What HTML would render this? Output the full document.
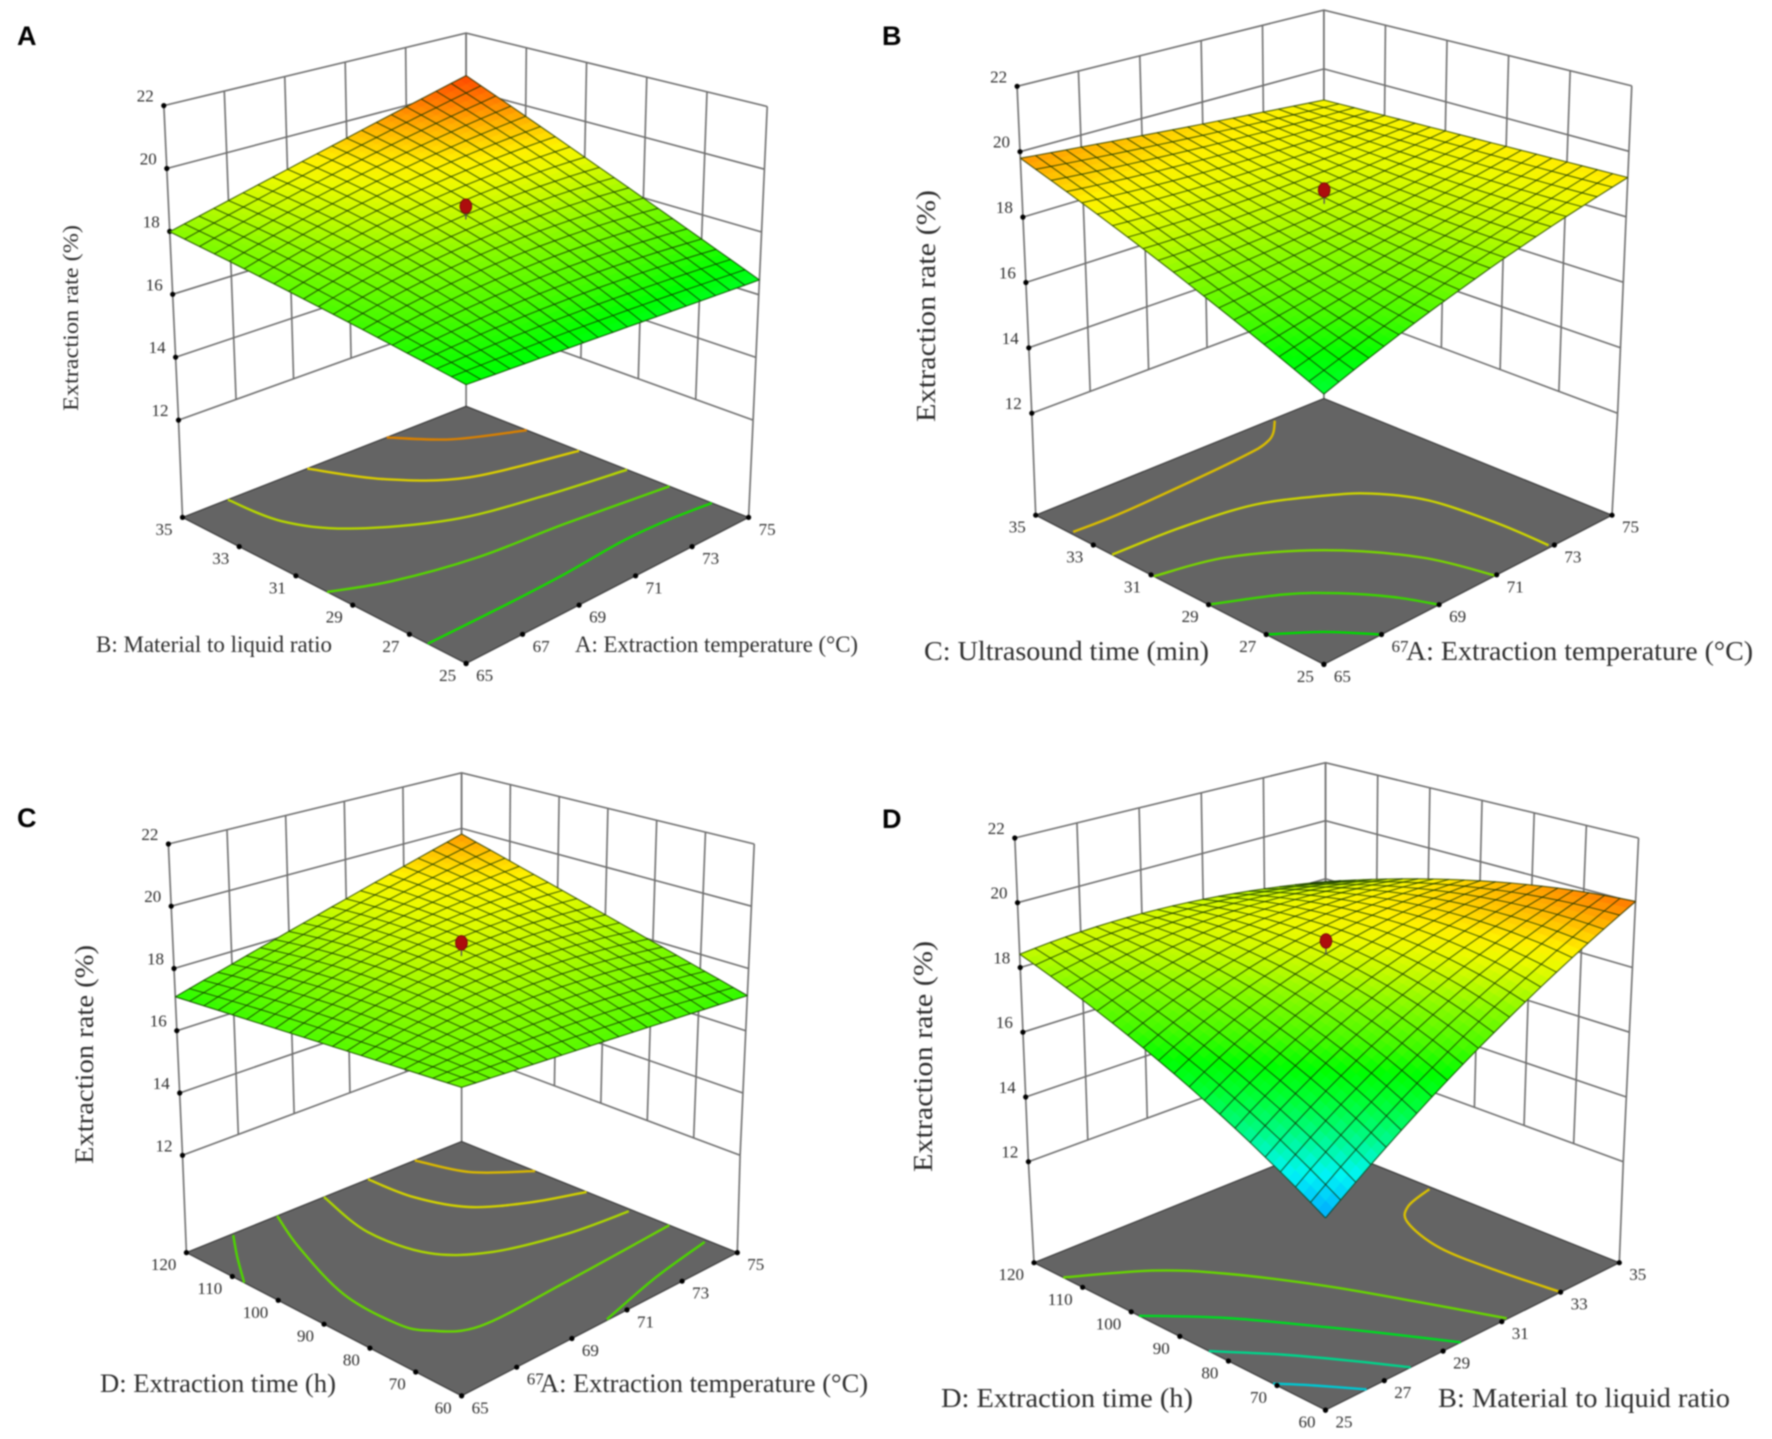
<!DOCTYPE html>
<html lang="en">
<head>
<meta charset="utf-8">
<title>Response surface plots of extraction rate</title>
<style>
html,body{margin:0;padding:0;background:#fff;}
svg{display:block;filter:blur(0.7px);}
.axis-title{font-family:"Liberation Serif",serif;fill:#2e2e2e;}
.tick-text{font-family:"Liberation Serif",serif;fill:#2e2e2e;font-size:17px;}
.panel-letter{font-family:"Liberation Sans",sans-serif;font-weight:bold;font-size:27px;fill:#000;}
</style>
</head>
<body>
<svg id="figure" xmlns="http://www.w3.org/2000/svg" width="1772" height="1439" viewBox="0 0 1772 1439">
<rect width="1772" height="1439" fill="#fff"/>
<g id="plots"></g>

<text class="panel-letter" x="17" y="45">A</text>
<text class="panel-letter" x="882" y="45">B</text>
<text class="panel-letter" x="17" y="827">C</text>
<text class="panel-letter" x="882" y="828">D</text>

<text class="axis-title" x="96" y="652" font-size="23" textLength="236" lengthAdjust="spacingAndGlyphs">B: Material to liquid ratio</text>
<text class="axis-title" x="575" y="652" font-size="23" textLength="283" lengthAdjust="spacingAndGlyphs">A: Extraction temperature (°C)</text>
<text class="axis-title" transform="translate(78,411) rotate(-90)" font-size="22" textLength="186" lengthAdjust="spacingAndGlyphs">Extraction rate (%)</text>

<text class="axis-title" x="924" y="660" font-size="27" textLength="285" lengthAdjust="spacingAndGlyphs">C: Ultrasound time (min)</text>
<text class="axis-title" x="1406" y="660" font-size="27" textLength="347" lengthAdjust="spacingAndGlyphs">A: Extraction temperature (°C)</text>
<text class="axis-title" transform="translate(935,422) rotate(-90)" font-size="27" textLength="232" lengthAdjust="spacingAndGlyphs">Extraction rate (%)</text>

<text class="axis-title" x="100" y="1392" font-size="26" textLength="236" lengthAdjust="spacingAndGlyphs">D: Extraction time (h)</text>
<text class="axis-title" x="540" y="1392" font-size="26" textLength="328" lengthAdjust="spacingAndGlyphs">A: Extraction temperature (°C)</text>
<text class="axis-title" transform="translate(93,1164) rotate(-90)" font-size="26" textLength="219" lengthAdjust="spacingAndGlyphs">Extraction rate (%)</text>

<text class="axis-title" x="941" y="1407" font-size="27" textLength="252" lengthAdjust="spacingAndGlyphs">D: Extraction time (h)</text>
<text class="axis-title" x="1438" y="1407" font-size="27" textLength="292" lengthAdjust="spacingAndGlyphs">B: Material to liquid ratio</text>
<text class="axis-title" transform="translate(932,1172) rotate(-90)" font-size="27" textLength="231" lengthAdjust="spacingAndGlyphs">Extraction rate (%)</text>
</svg>

<script>
// ---------- chart data ----------
const zTickValues = [12, 14, 16, 18, 20, 22];
const temperatureTicks = [65, 67, 69, 71, 73, 75];
const ratioTicks = [25, 27, 29, 31, 33, 35];
const ultrasoundTicks = [25, 27, 29, 31, 33, 35];
const timeTicks = [60, 70, 80, 90, 100, 110, 120];

// extraction rate at low / centre / high of the first factor (rows) and second factor (columns)
const panelAResponse = [[16.79, 17.40, 17.99], [16.64, 18.25, 19.18], [16.47, 18.39, 20.50]];
const panelBResponse = [[16.29, 18.05, 19.80], [17.85, 18.35, 19.37], [19.20, 19.08, 18.94]];
const panelCResponse = [[17.68, 17.41, 17.09], [17.43, 18.40, 18.38], [17.13, 18.39, 19.80]];
const panelDResponse = [[14.28, 16.57, 18.41], [17.30, 18.60, 18.56], [20.04, 19.38, 17.90]];

// centre-point design run
const designPointRate = [19.0, 19.0, 19.0, 19.0];

// floor contours: [first factor, second factor]
const panelAContourLevels = [19.8, 19.1, 18.6, 17.6, 17.0];
const panelAContours = [
  [[72.2,35],[73.3,33.8],[75,32.85]],
  [[69.4,35],[70.4,33.3],[72,31.9],[75,31]],
  [[66.6,35],[66.8,33.3],[67.8,31.9],[70,30.5],[72.5,29.8],[75,29.3]],
  [[65,29.9],[66.6,29.2],[69,28.6],[71.8,28.3],[75,27.8]],
  [[65,26.35],[67.85,26.35],[69.9,26.4],[72.05,26.55],[73.55,26.5],[75,26.3]]
];
const panelBContourLevels = [19.25, 18.85, 18.0, 17.3, 16.8];
const panelBContours = [
  [[73.2,34.9],[72.3,34.2],[70.9,33.95],[66.9,33.75],[65.1,33.8]],
  [[65,32.35],[67.25,32.25],[69.45,31.9],[71.05,31.05],[71.95,30.3],[72.65,29],[72.9,26.9],[72.9,25.1]],
  [[65,30.9],[67,30.4],[69,29],[70.4,27],[70.95,25]],
  [[65,29],[66.7,28.1],[67.7,27.2],[68.5,26.1],[69,25]],
  [[65,27],[66.1,26.1],[67,25]]
];
const panelCContourLevels = [19.3, 18.95, 18.5, 17.8, 17.5, 17.5];
const panelCContours = [
  [[73.3,120],[73.8,111],[75,104]],
  [[71.6,120],[71.7,110.6],[72.3,102.2],[73.6,96.5],[75,92.8]],
  [[70,120],[69.4,106.9],[69.7,95.3],[70.9,88.7],[72.9,84.7],[74.9,83]],
  [[68.3,120],[67.45,110.1],[66.5,94.7],[66.4,82.7],[66.75,77.5],[67.85,73],[71,73.4],[75,74.8]],
  [[66.65,119.7],[65.85,114],[65,107.4]],
  [[70.3,60.2],[72.7,64],[74.9,66.5]]
];
const panelDContourLevels = [19.2, 17.8, 16.4, 15.5, 14.9];
const panelDContours = [
  [[34.9,98.2],[33.85,96.3],[33.2,92.4],[32.75,83.2],[32.8,71.9],[33,60.4]],
  [[25,114],[26.9,107.2],[28.1,99.5],[29.4,86.5],[30.4,72.7],[31.2,60.2]],
  [[25,98.4],[26.5,89.4],[27.9,77.4],[28.8,68.6],[29.6,60]],
  [[25,84],[26.15,76.1],[27.1,67.9],[27.9,60]],
  [[25,70.8],[25.65,66.2],[26.4,60]]
];

// colour ramp domain for the response
const colorRateStops = [14.3, 15.0, 15.7, 16.3, 16.8, 17.3, 18.0, 18.4, 18.8, 19.1, 19.5, 20.0, 20.5];
const colorRgbStops = [[0,170,255],[0,245,245],[0,250,130],[0,255,50],[0,255,0],[70,250,0],[140,250,0],[190,250,0],[235,250,0],[255,240,0],[255,190,0],[255,125,0],[255,70,0]];

// ---------- panel layout ----------
const panels = [
  {id:'a', ox:0, oy:0, response:panelAResponse, contours:panelAContours, levels:panelAContourLevels,
   aTicks:temperatureTicks, bTicks:ratioTicks, design:0,
   floor:{L:[323,1127],B:[825,885],R:[1325,1127],F:[825,1445]},
   low:{L:[316,915],B:[825,690],R:[1333,915],F:[825,1208]},
   high:{L:[290,230],B:[825,72],R:[1358,232],F:[825,435]}},
  {id:'b', ox:886, oy:0, response:panelBResponse, contours:panelBContours, levels:panelBContourLevels,
   aTicks:temperatureTicks, bTicks:ultrasoundTicks, design:1,
   floor:{L:[265,1122],B:[775,868],R:[1285,1122],F:[775,1447]},
   low:{L:[258,900],B:[775,662],R:[1295,900],F:[775,1205]},
   high:{L:[232,188],B:[775,22],R:[1320,187],F:[775,397]}},
  {id:'c', ox:0, oy:720, response:panelCResponse, contours:panelCContours, levels:panelCContourLevels,
   aTicks:temperatureTicks, bTicks:timeTicks, design:2,
   floor:{L:[330,1160],B:[817,918],R:[1305,1160],F:[817,1472]},
   low:{L:[323,948],B:[817,721],R:[1310,948],F:[817,1241]},
   high:{L:[298,270],B:[817,115],R:[1335,270],F:[817,465]}},
  {id:'d', ox:886, oy:720, response:panelDResponse, contours:panelDContours, levels:panelDContourLevels,
   aTicks:ratioTicks, bTicks:timeTicks, design:3,
   floor:{L:[262,1182],B:[778,926],R:[1298,1182],F:[778,1503]},
   low:{L:[252,962],B:[778,725],R:[1305,962],F:[778,1268]},
   high:{L:[228,257],B:[778,93],R:[1332,257],F:[778,464]}}
];

const NS = 'http://www.w3.org/2000/svg';
const MESH = 20;
const SHADE = 40;
const plots = document.getElementById('plots');

function el(tag, attrs, parent) {
  const e = document.createElementNS(NS, tag);
  for (const k in attrs) e.setAttribute(k, attrs[k]);
  parent.appendChild(e);
  return e;
}
function bilinear(q, a, b) {
  const w = [(1-a)*(1-b), a*(1-b), (1-a)*b, a*b];
  return [
    q.F[0]*w[0] + q.R[0]*w[1] + q.L[0]*w[2] + q.B[0]*w[3],
    q.F[1]*w[0] + q.R[1]*w[1] + q.L[1]*w[2] + q.B[1]*w[3]
  ];
}
function colorOf(z, k) {
  const s = colorRateStops, c = colorRgbStops;
  let rgb;
  if (z <= s[0]) rgb = c[0];
  else if (z >= s[s.length-1]) rgb = c[c.length-1];
  else {
    let i = 0;
    while (z > s[i+1]) i++;
    const t = (z - s[i]) / (s[i+1] - s[i]);
    rgb = [0,1,2].map(n => c[i][n] + (c[i+1][n] - c[i][n]) * t);
  }
  const f = k || 1;
  return 'rgb(' + rgb.map(v => Math.round(v*f)).join(',') + ')';
}
function basis(t) { return [(1-t)*(1-2*t), 4*t*(1-t), t*(2*t-1)]; }

function drawPanel(p) {
  const g = el('g', {}, plots);
  
  

  const toPx = v => [p.ox + v[0]/1.77, p.oy + v[1]/2.178];
  const aMin = p.aTicks[0], aMax = p.aTicks[p.aTicks.length-1];
  const bMin = p.bTicks[0], bMax = p.bTicks[p.bTicks.length-1];
  const aScale = v => (v - aMin) / (aMax - aMin);
  const bScale = v => (v - bMin) / (bMax - bMin);
  const zScale = v => (v - 12) / 10;
  const floorAt = (a, b) => toPx(bilinear(p.floor, a, b));
  const at3d = (a, b, z) => {
    const lo = bilinear(p.low, a, b), hi = bilinear(p.high, a, b), t = zScale(z);
    return toPx([lo[0] + (hi[0]-lo[0])*t, lo[1] + (hi[1]-lo[1])*t]);
  };
  const rateAt = (a, b) => {
    const ba = basis(a), bb = basis(b);
    let z = 0;
    for (let i = 0; i < 3; i++) for (let j = 0; j < 3; j++) z += ba[i]*bb[j]*p.response[i][j];
    return z;
  };
  const pts = list => list.map(q => q[0].toFixed(1) + ',' + q[1].toFixed(1)).join(' ');

  // walls
  const walls = el('g', {fill:'none', stroke:'#6e6e6e', 'stroke-width':1.6}, g);
  
  
  zTickValues.forEach(z => {
    const l = el('polyline', {points: pts([at3d(0,1,z), at3d(1,1,z), at3d(1,0,z)])}, walls);
    
    
  });
  p.aTicks.forEach(v => {
    const a = aScale(v);
    const l = el('line', {}, walls);
    const q0 = at3d(a,1,12), q1 = at3d(a,1,22);
    l.setAttribute('x1', q0[0]); l.setAttribute('y1', q0[1]);
    l.setAttribute('x2', q1[0]); l.setAttribute('y2', q1[1]);
    
    
  });
  p.bTicks.forEach(v => {
    const b = bScale(v);
    const l = el('line', {}, walls);
    const q0 = at3d(1,b,12), q1 = at3d(1,b,22);
    l.setAttribute('x1', q0[0]); l.setAttribute('y1', q0[1]);
    l.setAttribute('x2', q1[0]); l.setAttribute('y2', q1[1]);
    
    
  });
  [[0,1],[1,1],[1,0]].forEach(c => {
    const l = el('polyline', {points: pts([floorAt(c[0],c[1]), at3d(c[0],c[1],12)])}, walls);
    
    
  });

  // floor
  const floor = el('polygon', {points: pts([floorAt(0,0), floorAt(1,0), floorAt(1,1), floorAt(0,1)]), fill:'#646464', stroke:'#3a3a3a', 'stroke-width':1.2}, g);
  
  

  // contours
  p.contours.forEach((line, n) => {
    const q = line.map(v => floorAt(aScale(v[0]), bScale(v[1])));
    let d = 'M' + q[0][0].toFixed(1) + ' ' + q[0][1].toFixed(1);
    for (let i = 0; i < q.length-1; i++) {
      const p0 = q[Math.max(i-1,0)], p1 = q[i], p2 = q[i+1], p3 = q[Math.min(i+2,q.length-1)];
      d += ' C' + (p1[0]+(p2[0]-p0[0])/6).toFixed(1) + ' ' + (p1[1]+(p2[1]-p0[1])/6).toFixed(1) + ' ' +
           (p2[0]-(p3[0]-p1[0])/6).toFixed(1) + ' ' + (p2[1]-(p3[1]-p1[1])/6).toFixed(1) + ' ' +
           p2[0].toFixed(1) + ' ' + p2[1].toFixed(1);
    }
    const c = el('path', {d: d, fill:'none', stroke: colorOf(p.levels[n], 0.85), 'stroke-width':2.4}, g);
    
    
  });

  // floor and z ticks
  const tickGroup = el('g', {}, g);
  
  
  const addLabel = (x, y, str, anchor) => {
    const t = el('text', {x: x.toFixed(1), y: y.toFixed(1), 'text-anchor': anchor, 'class':'tick-text'}, tickGroup);
    t.textContent = str;
    
    
  };
  const addDot = q => {
    const c = el('circle', {cx:q[0].toFixed(1), cy:q[1].toFixed(1), r:2.6, fill:'#000'}, tickGroup);
    
    
  };
  zTickValues.forEach(z => {
    const q = at3d(0,1,z);
    addDot(q);
    addLabel(q[0]-10, q[1]-4, String(z), 'end');
  });
  p.aTicks.forEach(v => {
    const q = floorAt(aScale(v), 0);
    addDot(q);
    addLabel(q[0]+10, q[1]+17.5, String(v), 'start');
  });
  p.bTicks.forEach(v => {
    const q = floorAt(0, bScale(v));
    addDot(q);
    addLabel(q[0]-10, q[1]+17.5, String(v), 'end');
  });

  // surface colour
  const surface = el('g', {}, g);
  
  
  for (let i = SHADE-1; i >= 0; i--) {
    for (let j = SHADE-1; j >= 0; j--) {
      const a0 = i/SHADE, a1 = (i+1)/SHADE, b0 = j/SHADE, b1 = (j+1)/SHADE;
      const col = colorOf(rateAt((a0+a1)/2, (b0+b1)/2));
      const cell = el('polygon', {
        points: pts([at3d(a0,b0,rateAt(a0,b0)), at3d(a1,b0,rateAt(a1,b0)), at3d(a1,b1,rateAt(a1,b1)), at3d(a0,b1,rateAt(a0,b1))]),
        fill: col, stroke: col, 'stroke-width': 0.7
      }, surface);
      
      
    }
  }
  // surface mesh
  const mesh = el('g', {fill:'none', stroke:'#0f2e00', 'stroke-opacity':0.74, 'stroke-width':1.1}, g);
  
  
  for (let i = 0; i <= MESH; i++) {
    const u = i/MESH, l1 = [], l2 = [];
    for (let k = 0; k <= MESH; k++) {
      const v = k/MESH;
      l1.push(at3d(u, v, rateAt(u, v)));
      l2.push(at3d(v, u, rateAt(v, u)));
    }
    const m1 = el('polyline', {points: pts(l1)}, mesh);
    
    
    const m2 = el('polyline', {points: pts(l2)}, mesh);
    
    
  }

  // design point
  const zDot = designPointRate[p.design];
  const dq = at3d(0.5, 0.5, zDot);
  const sq = at3d(0.5, 0.5, zDot - 0.42);
  const stem = el('line', {x1:dq[0], y1:dq[1], x2:sq[0], y2:sq[1], stroke:'#555', 'stroke-width':1.4}, g);
  
  
  const dot = el('ellipse', {cx:dq[0], cy:dq[1], rx:5.8, ry:7.2, fill:'#ad0d0d', stroke:'#7c0a0a', 'stroke-width':1}, g);
  
  
}

panels.forEach(drawPanel);
</script>
</body>
</html>
